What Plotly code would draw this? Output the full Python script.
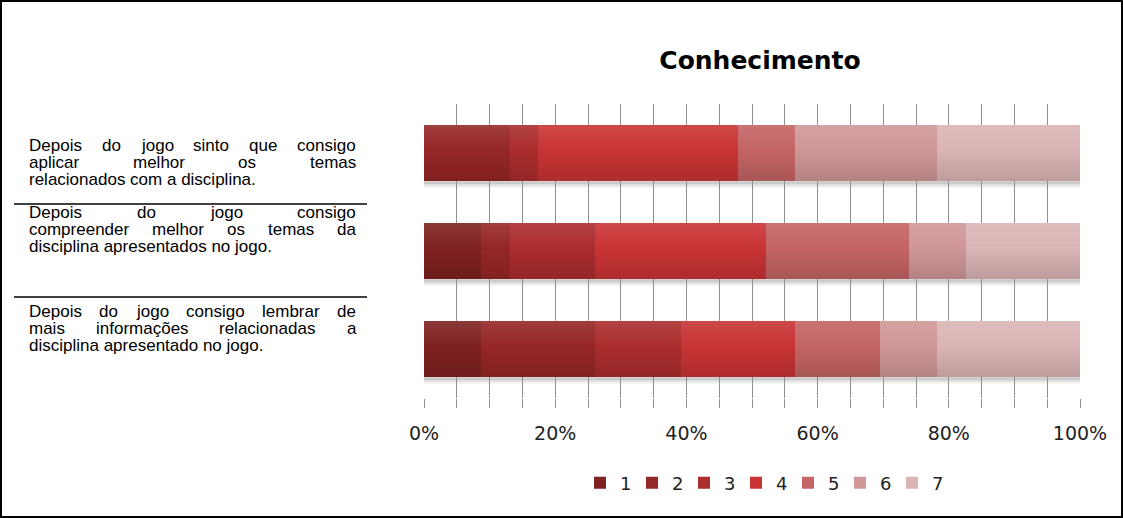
import plotly.graph_objects as go

# Statements (rows, top to bottom) and Likert levels
statements = [
    "Depois do jogo sinto que consigo aplicar melhor os temas relacionados com a disciplina.",
    "Depois do jogo consigo compreender melhor os temas da disciplina apresentados no jogo.",
    "Depois do jogo consigo lembrar de mais informações relacionadas a disciplina apresentado no jogo.",
]
row_ids = ["Q1", "Q2", "Q3"]
levels = ["1", "2", "3", "4", "5", "6", "7"]

# Number of answers at each level (columns) for each statement (rows)
counts_q1 = [0, 3, 1, 7, 2, 5, 5]
counts_q2 = [2, 1, 3, 6, 5, 2, 4]
counts_q3 = [2, 4, 3, 4, 3, 2, 5]
counts = [counts_q1, counts_q2, counts_q3]

level_colors = ["#7f2121", "#962727", "#ab2d2d", "#c93434",
                "#c46464", "#d09797", "#dbb5b5"]

# Statement text as it is broken into lines, with justification flags
text_lines = [
    [("Depois do jogo sinto que consigo", True),
     ("aplicar melhor os temas", True),
     ("relacionados com a disciplina.", False)],
    [("Depois do jogo consigo", True),
     ("compreender melhor os temas da", True),
     ("disciplina apresentados no jogo.", False)],
    [("Depois do jogo consigo lembrar de", True),
     ("mais informações relacionadas a", True),
     ("disciplina apresentado no jogo.", False)],
]

W, H = 1123, 518
ML, MR, MT, MB = 424, 43, 104, 120
PW, PH = W - ML - MR, H - MT - MB
BARGAP = 0.42

fig = go.Figure()
for i, lvl in enumerate(levels):
    fig.add_trace(go.Bar(
        y=row_ids,
        x=[c[i] for c in counts],
        name=lvl,
        orientation="h",
        marker=dict(color=level_colors[i], line=dict(width=0)),
        hovertext=statements,
    ))


def px_x(px):
    return (px - ML) / PW


def px_y(py):
    return (H - MB - py) / PH


# Arial / Liberation Sans advance widths (per 1000 em)
adv = {" ": 278, ".": 278, "a": 556, "b": 556, "c": 500, "d": 556, "e": 556,
       "f": 278, "g": 556, "h": 556, "i": 222, "j": 222, "k": 500, "l": 222,
       "m": 833, "n": 556, "o": 556, "p": 556, "q": 556, "r": 333, "s": 500,
       "t": 278, "u": 556, "v": 500, "w": 722, "x": 500, "y": 500, "z": 500,
       "D": 722, "ç": 500, "õ": 556}
FS = 17
TEXT_FONT = dict(family="Liberation Sans", size=FS, color="#000000")


def text_w(s):
    return sum(adv.get(ch, 556) for ch in s) * FS / 1000.0


left_x, right_x = 28, 355
block_tops = [145, 212, 311]
line_gap = 17
annotations = []
for b, lines in enumerate(text_lines):
    for k, (line, justify) in enumerate(lines):
        cy = block_tops[b] + k * line_gap
        words = line.split(" ")
        if justify and len(words) > 1:
            total = sum(text_w(w) for w in words)
            gap = (right_x - left_x - total) / (len(words) - 1)
            x = left_x
            for w in words:
                annotations.append(dict(
                    x=px_x(x), y=px_y(cy), xref="paper", yref="paper",
                    text=w, showarrow=False, xanchor="left", yanchor="middle",
                    font=TEXT_FONT, borderpad=0))
                x += text_w(w) + gap
        else:
            annotations.append(dict(
                x=px_x(left_x), y=px_y(cy), xref="paper", yref="paper",
                text=line, showarrow=False, xanchor="left", yanchor="middle",
                font=TEXT_FONT, borderpad=0))

shapes = []
# separators between statements
for sy in (204, 297):
    shapes.append(dict(type="line", xref="paper", yref="paper",
                       x0=px_x(14), x1=px_x(367), y0=px_y(sy), y1=px_y(sy),
                       line=dict(color="#000000", width=1.5)))

# soft shadow under each bar and a vertical light-to-dark sheen across it
half = (1 - BARGAP) / 2
n_bands = 16
for r in range(len(row_ids)):
    for s, a in ((0.0, 0.10), (0.02, 0.07), (0.04, 0.04)):
        shapes.append(dict(type="rect", xref="x", yref="y", layer="below",
                           x0=0, x1=100, y0=r + half, y1=r + half + 0.03 + s,
                           fillcolor=f"rgba(0,0,0,{a})", line=dict(width=0)))
    for j in range(n_bands):
        t = j / (n_bands - 1)
        y0 = r - half + 2 * half * j / n_bands
        y1 = r - half + 2 * half * (j + 1) / n_bands
        if t < 0.45:
            fill = f"rgba(255,255,255,{0.10 * (0.45 - t) / 0.45:.3f})"
        else:
            fill = f"rgba(0,0,0,{0.13 * (t - 0.45) / 0.55:.3f})"
        shapes.append(dict(type="rect", xref="x", yref="y", layer="above",
                           x0=0, x1=100, y0=y0, y1=y1,
                           fillcolor=fill, line=dict(width=0)))

# outer frame
shapes.append(dict(type="rect", xref="paper", yref="paper",
                   x0=px_x(1), x1=px_x(W - 1), y0=px_y(H - 1), y1=px_y(1),
                   line=dict(color="#000000", width=2), layer="above"))

grid_col = "#8f8f8f"
fig.update_layout(
    width=W, height=H,
    margin=dict(l=ML, r=MR, t=MT, b=MB),
    paper_bgcolor="#ffffff", plot_bgcolor="#ffffff",
    barmode="stack", barnorm="percent", bargap=BARGAP,
    title=dict(text="<b>Conhecimento</b>", x=px_x(760), xref="paper",
               y=1 - 60 / H, yref="container", xanchor="center", yanchor="middle",
               font=dict(family="DejaVu Sans", size=25, color="#000000")),
    xaxis=dict(range=[0, 100], dtick=20, ticksuffix="%",
               showgrid=True, gridcolor=grid_col, gridwidth=1,
               zeroline=False, showline=False,
               ticks="outside", ticklen=9, tickcolor=grid_col,
               ticklabelstandoff=9,
               tickfont=dict(family="DejaVu Sans", size=19, color="#222222"),
               minor=dict(dtick=5, showgrid=True, gridcolor=grid_col,
                          gridwidth=1, ticks="outside", ticklen=9,
                          tickcolor=grid_col)),
    yaxis=dict(autorange="reversed", showticklabels=False, showgrid=False,
               zeroline=False, showline=False),
    legend=dict(orientation="h", x=px_x(762), xanchor="center",
                y=px_y(483), yanchor="middle", entrywidth=7, itemwidth=30,
                font=dict(family="DejaVu Sans", size=18, color="#222222"),
                traceorder="normal"),
    annotations=annotations,
    shapes=shapes,
)

fig.write_html("out.html")
